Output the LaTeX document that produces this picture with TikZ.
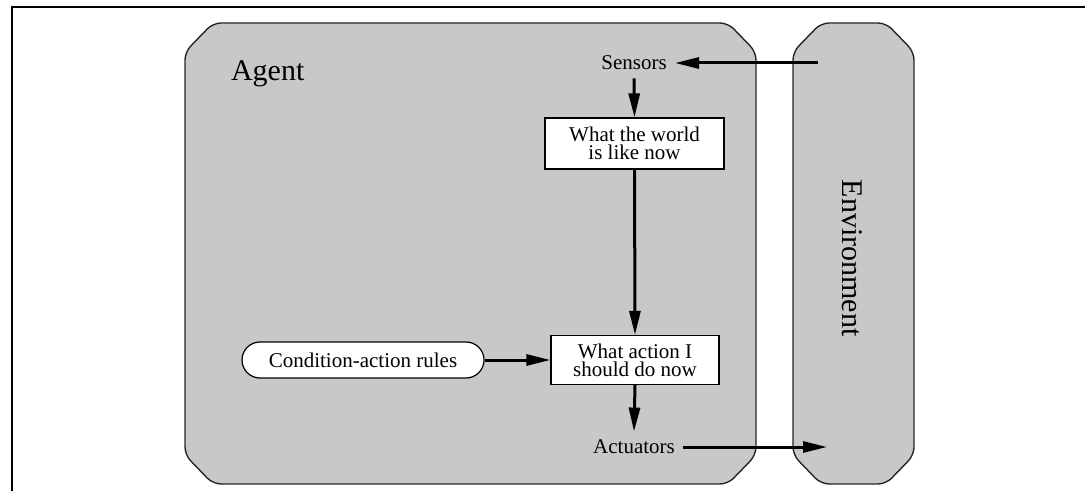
\documentclass[tikz,border=0pt]{standalone}
\usepackage{fontspec}
\setmainfont{Liberation Serif}
\usetikzlibrary{arrows.meta,shapes.misc}
\definecolor{panelgray}{RGB}{199,200,202}
\tikzset{
  panel/.style={draw=black!85, line width=0.7pt, fill=panelgray, rounded corners=4pt},
  smalltext/.style={font=\fontsize{10.5}{9}\selectfont, align=center},
  bigtext/.style={font=\fontsize{15}{18}\selectfont},
  procbox/.style={smalltext, draw=black, line width=0.6pt, fill=white, inner sep=0pt},
  rulebox/.style={smalltext, draw=black, line width=0.6pt, fill=white, rounded rectangle, inner sep=0pt},
  flow/.style={line width=1.5pt, -{Triangle[length=12pt,width=5.5pt]}, shorten >=0pt},
  frameline/.style={line width=1pt, black}
}
\begin{document}
\begin{tikzpicture}[x=0.5pt,y=-0.5pt]
\useasboundingbox (0,0) rectangle (1085,491);
% frame
\draw[frameline] (12,491) -- (12,7) -- (1085,7);
% agent panel
\draw[panel] (185,52) -- (213,23) -- (728,23) -- (756,52) -- (756,455) -- (728,484) -- (213,484) -- (185,455) -- cycle;
% environment panel
\draw[panel] (793,52) -- (821,23) -- (886,23) -- (914,52) -- (914,455) -- (886,484) -- (821,484) -- (793,455) -- cycle;
% labels
\node[bigtext, anchor=base west] (agentlbl) at (224,81) {Agent};
\node[bigtext, rotate=-90] (envlbl) at (852,258) {Environment};
% nodes
\node[smalltext, inner sep=4pt] (sensors) at (634,63) {Sensors};
\node[procbox, minimum width=89.5pt, minimum height=25.5pt] (world) at (634.5,143.5) {What the world\\is like now};
\node[procbox, minimum width=84pt, minimum height=24.5pt] (action) at (635,360) {What action I\\should do now};
\node[rulebox, minimum width=121pt, minimum height=18pt] (rules) at (363,360) {Condition-action rules};
\node[smalltext, inner sep=4pt] (actuators) at (634,447) {Actuators};
\coordinate (envin) at (818,63);
\coordinate (envout) at (827,447);
% connectors
\draw[flow] (envin) -- (sensors.east);
\draw[flow] (sensors.south) -- (world.north);
\draw[flow] (world.south) -- (action.north);
\draw[flow] (rules.east) -- (action.west);
\draw[flow] (action.south) -- (actuators.north);
\draw[flow] (actuators.east) -- (envout);
\end{tikzpicture}
\end{document}
